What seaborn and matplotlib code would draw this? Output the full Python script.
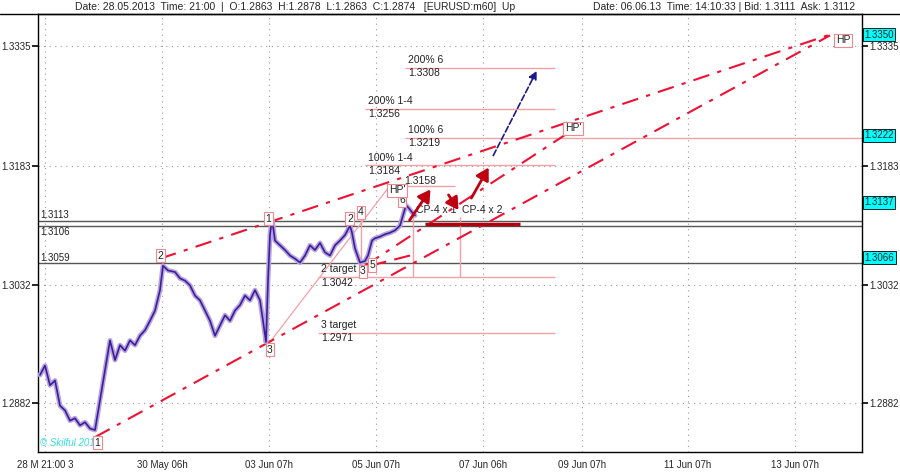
import matplotlib
matplotlib.use("Agg")
import matplotlib.pyplot as plt
import seaborn as sns
import numpy as np
import pandas as pd

sns.set_theme(style="white")
plt.rcParams['font.family'] = ['Liberation Sans', 'DejaVu Sans']

# ---- data ----
bar_x = [1,3.5,6,8.5,11,13.5,16,18.5,21,23.5,26,28.5,31,33.5,36,38.5,41,43.5,46,48.5,51,53.5,56,58.5,61,62.5,
         65,68.5,71,73.5,76,78.5,81,83.5,86,88.5,91,93.5,96,98.5,101,103.5,106,108.5,111,112.5,114,115,116,117,
         118.5,121,123.5,126,128.5,131,133.5,136,138.5,141,143.5,146,148.5,151,153.5,156,157,158.5,161,163.5,
         165,167,168.5,171,173.5,176,178.5,181,182.5,184,185.5,187,188.5]
close = [1.2917,1.2929,1.2904,1.2910,1.2878,1.2872,1.2859,1.2862,1.2853,1.2857,1.2849,1.2847,1.2885,1.2923,
         1.2961,1.2936,1.2955,1.2948,1.2961,1.2955,1.2967,1.2974,1.2986,1.2999,1.3025,1.3056,1.3050,1.3048,
         1.3040,1.3037,1.3031,1.3018,1.3012,1.2999,1.2986,1.2967,1.2980,1.2993,1.2986,1.2999,1.3006,1.3018,
         1.3012,1.3025,1.3012,1.2986,1.2959,1.3037,1.3095,1.3116,1.3088,1.3082,1.3076,1.3069,1.3065,1.3060,
         1.3069,1.3082,1.3076,1.3085,1.3073,1.3069,1.3082,1.3088,1.3095,1.3107,1.3098,1.3078,1.3060,1.3062,
         1.3069,1.3088,1.3091,1.3093,1.3096,1.3098,1.3101,1.3107,1.3120,1.3133,1.3129,1.3124,1.3120]

x_ticks = [3.5, 62, 115.5, 169, 222.5, 272, 325, 378.5]
x_labels = ["28 M 21:00 3", "30 May 06h", "03 Jun 07h", "05 Jun 07h", "07 Jun 06h", "09 Jun 07h", "11 Jun 07h", "13 Jun 07h"]
y_ticks = [1.3335, 1.3183, 1.3032, 1.2882]

targets_price = [1.3308, 1.3256, 1.3219, 1.3184, 1.3158, 1.3042, 1.2971]
targets_x0 = [183.5, 163.5, 183.5, 163.5, 176, 140, 140]
targets_x1 = [258.5, 258.5, 412, 258.5, 208.5, 258.5, 258.5]
targets_name = ["200% 6", "200% 1-4", "100% 6", "100% 1-4", "HP'", "2 target", "3 target"]

black_levels = [1.3113, 1.3106, 1.3059]

channel_x0 = [28.5, 163.5, 61]
channel_p0 = [1.2838, 1.3056, 1.3065]
channel_x1 = [396, 264.5, 396]
channel_p1 = [1.3349, 1.3224, 1.3350]

point_labels = ["1", "2", "3", "2", "4", "3", "5", "6", "HP'", "1", "HP", "HP'"]
point_x = [115, 61, 116, 156, 161.5, 162.5, 167, 182, 179.5, 29.5, 402.5, 267.5]
point_p = [1.3116, 1.3069, 1.2949, 1.3116, 1.3124, 1.3049, 1.3057, 1.3139, 1.3152, 1.2831, 1.3343, 1.3231]

right_boxes = [1.3350, 1.3222, 1.3137, 1.3066]

# ---- figure ----
fig = plt.figure(figsize=(9, 4.74), dpi=100)
ax = fig.add_axes([38/900, 22/474, 824/900, 438/474])
ax.set_xlim(0, 412)
ax.set_ylim(1.28191, 1.33762)

for t in x_ticks:
    ax.axvline(t, color="#999999", ls=(0, (1, 4)), lw=0.8, zorder=0)
for t in y_ticks:
    ax.axhline(t, color="#999999", ls=(0, (1, 4)), lw=0.8, zorder=0)

for lv in black_levels:
    ax.axhline(lv, color="#555555", lw=1.0, zorder=1)

for p, a, b, n in zip(targets_price, targets_x0, targets_x1, targets_name):
    ax.hlines(p, a, b, color="#f4a0a8", lw=1.0, zorder=1)
    if n == "HP'":
        ax.text(a + 7, p - 0.0001, f"{p:.4f}", fontsize=7.5, color="#222222", va="bottom")
    else:
        ax.text(a + 1.5, p + 0.0003, n, fontsize=7.5, color="#222222", va="bottom")
        ax.text(a + 1.5, p - 0.0001, f"{p:.4f}", fontsize=7.5, color="#222222", va="top")

ax.vlines([187.5, 211], 1.3042, [1.3124, 1.3118], color="#f4a0a8", lw=1.0)
ax.vlines(161.5, 1.3056, 1.3124, color="#f4a0a8", lw=1.0)
ax.plot([114.5, 176], [1.2954, 1.3158], color="#f4a0a8", lw=0.9)

for a, pa, b, pb in zip(channel_x0, channel_p0, channel_x1, channel_p1):
    ax.plot([a, b], [pa, pb], color="#ee1133", lw=1.5, ls=(0, (8, 4, 2, 4)), zorder=2)
ax.plot([166, 186], [1.3056, 1.3069], color="#ee1133", lw=1.5, ls=(0, (8, 4)), zorder=2)

df = pd.DataFrame({"x": bar_x, "close": close})
sns.lineplot(data=df, x="x", y="close", ax=ax, color="#b9a3e0", lw=3.5, zorder=3)
sns.lineplot(data=df, x="x", y="close", ax=ax, color="#3a1f96", lw=1.2, zorder=4)

for lab, x, p in zip(point_labels, point_x, point_p):
    ax.text(x, p, lab, fontsize=7.5, color="#222222", ha="center", va="center", zorder=6,
            bbox=dict(boxstyle="square,pad=0.15", fc="white", ec="#f08890", lw=0.8))

arr = dict(arrowstyle="-|>,head_width=0.35,head_length=0.6", color="#c00010", lw=2)
ax.annotate("", xy=(197, 1.3156), xytext=(185, 1.3111), arrowprops=arr, zorder=7)
ax.annotate("", xy=(211, 1.3124), xytext=(204.5, 1.3149), arrowprops=arr, zorder=7)
ax.annotate("", xy=(226, 1.3184), xytext=(216, 1.3139), arrowprops=arr, zorder=7)
ax.annotate("", xy=(250, 1.3307), xytext=(227, 1.3193),
            arrowprops=dict(arrowstyle="-|>", color="#1a1a8c", lw=1.2, ls="--"), zorder=7)
ax.hlines(1.3109, 193.5, 241, color="#b00010", lw=2.5, zorder=5)
ax.text(189, 1.3127, "CP-4 x 1", fontsize=7.5, color="#222222", va="center", zorder=6)
ax.text(212, 1.3127, "CP-4 x 2", fontsize=7.5, color="#222222", va="center", zorder=6)

for lv in black_levels:
    ax.text(1, lv + (0.0001 if lv != 1.3106 else -0.0001), f"{lv:.4f}", fontsize=7,
            va="bottom" if lv != 1.3106 else "top", color="#222222")

ax.text(1, 1.2831, "© Skilful 2013", fontsize=7, color="#33dddd", style="italic", va="center", zorder=5)

# axes styling
ax.set_xticks(x_ticks)
ax.set_xticklabels(x_labels, fontsize=7)
ax.set_yticks(y_ticks)
ax.set_yticklabels([f"{t:.4f}" for t in y_ticks], fontsize=7)
ax.tick_params(axis="y", which="both", left=True, right=True, labelleft=True, labelright=True,
               length=4, width=1.2, color="black", pad=1)
ax.tick_params(axis="x", length=4, color="black", pad=2)
ax.set_xlabel("")
ax.set_ylabel("")
for s in ax.spines.values():
    s.set_color("black")
    s.set_linewidth(1)

for p in right_boxes:
    ax.text(1.003, p, f"{p:.4f}", transform=ax.get_yaxis_transform(), fontsize=7, va="center",
            ha="left", bbox=dict(boxstyle="square,pad=0.15", fc="#00ffff", ec="black", lw=0.6))

fig.text(75/900, 1 - 7/474, "Date: 28.05.2013  Time: 21:00  |  O:1.2863  H:1.2878  L:1.2863  C:1.2874   [EURUSD:m60]  Up",
         fontsize=7.5, va="center")
fig.text(855/900, 1 - 7/474, "Date: 06.06.13  Time: 14:10:33 | Bid: 1.3111  Ask: 1.3112",
         fontsize=7.5, va="center", ha="right")
fig.add_artist(plt.Line2D([0, 1], [1 - 14/474, 1 - 14/474], color="black", lw=1))

fig.savefig("out.png", dpi=100)
